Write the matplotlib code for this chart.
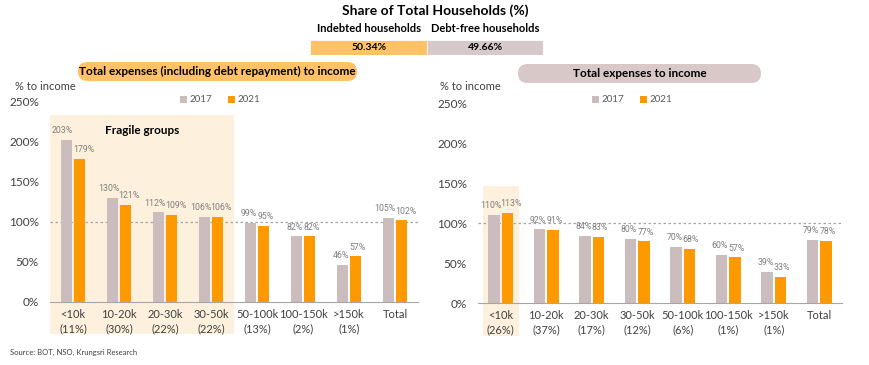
import matplotlib.pyplot as plt
from matplotlib.patches import FancyBboxPatch, Rectangle
from matplotlib import font_manager
import numpy as np

plt.rcParams['font.family'] = ['Lato', 'DejaVu Sans']

# data
left_cats = ["<10k\n(11%)", "10-20k\n(30%)", "20-30k\n(22%)", "30-50k\n(22%)",
             "50-100k\n(13%)", "100-150k\n(2%)", ">150k\n(1%)", "Total"]
left_2017 = [203, 130, 112, 106, 99, 82, 46, 105]
left_2021 = [179, 121, 109, 106, 95, 82, 57, 102]

right_cats = ["<10k\n(26%)", "10-20k\n(37%)", "20-30k\n(17%)", "30-50k\n(12%)",
              "50-100k\n(6%)", "100-150k\n(1%)", ">150k\n(1%)", "Total"]
right_2017 = [110, 92, 84, 80, 70, 60, 39, 79]
right_2021 = [113, 91, 83, 77, 68, 57, 33, 78]

share_labels = ["Indebted households", "Debt-free households"]
share_values = [50.34, 49.66]

C17 = "#CBBDBD"
C21 = "#FF9900"
SHADE = "#FDF0DC"
PILL_OR = "#FFC266"
PILL_GR = "#D9C8C8"
TXT = "#404040"

names = {f.name for f in font_manager.fontManager.ttflist}
NARROW = ["Liberation Sans Narrow"] if "Liberation Sans Narrow" in names else ["Roboto"]

W, H = 870, 365
fig = plt.figure(figsize=(W / 100, H / 100), dpi=100)


def fx(px):
    return px / W


def fy(py):
    return 1 - py / H


def draw_panel(ax, cats, v17, v21, shade_x, shade_y):
    x = np.arange(len(cats))
    bw = 0.25
    off = 0.145
    ax.add_patch(Rectangle((shade_x[0], shade_y[0]), shade_x[1] - shade_x[0],
                           shade_y[1] - shade_y[0], facecolor=SHADE,
                           edgecolor="none", clip_on=False, zorder=0))
    ax.bar(x - off, v17, bw, color=C17, label="2017", zorder=2)
    ax.bar(x + off, v21, bw, color=C21, label="2021", zorder=2)
    for i, (a, b) in enumerate(zip(v17, v21)):
        # spread the two labels apart when they are wide
        dx = 0.08 if max(a, b) >= 100 else 0.035
        ax.text(i - off - dx, a + 6, f"{a}%", ha="center", va="bottom",
                fontsize=6.3, color="#7F7F7F", family=NARROW)
        ax.text(i + off + dx, b + 6, f"{b}%", ha="center", va="bottom",
                fontsize=6.3, color="#7F7F7F", family=NARROW)
    ax.axhline(100, color="#A6A6A6", lw=0.9, ls=(0, (2, 2)), zorder=1)
    ax.set_xlim(-0.5, 7.5)
    ax.set_ylim(0, 250)
    ax.set_yticks([0, 50, 100, 150, 200, 250])
    ax.set_yticklabels([f"{t}%" for t in [0, 50, 100, 150, 200, 250]])
    ax.set_xticks(x)
    ax.set_xticklabels(cats, fontsize=8, color=TXT, linespacing=1.35)
    ax.tick_params(axis="y", length=0, labelsize=8.5, labelcolor=TXT, pad=8)
    ax.tick_params(axis="x", length=0, pad=5)
    for s in ("top", "right", "left"):
        ax.spines[s].set_visible(False)
    ax.spines["bottom"].set_color("#A6A6A6")
    ax.patch.set_alpha(0)


axl = fig.add_axes([fx(50), fy(302), fx(368), fy(102) - fy(302)])
draw_panel(axl, left_cats, left_2017, left_2021, (-0.5, 3.5), (-40, 234))
axl.text(1.5, 214, "Fragile groups", ha="center", va="center",
         fontsize=8.5, fontweight="bold", color="#000000")

axr = fig.add_axes([fx(478), fy(303), fx(364), fy(103) - fy(303)])
draw_panel(axr, right_cats, right_2017, right_2021, (-0.4, 0.4), (-41, 146))

for ax, cx in ((axl, 220), (axr, 632)):
    ax.legend(loc="center", bbox_to_anchor=(fx(cx), fy(100)),
              bbox_transform=fig.transFigure, ncol=2, frameon=False,
              fontsize=7, handlelength=0.7, handleheight=0.7,
              handletextpad=0.3, columnspacing=1.6, labelcolor="#595959")

fig.text(fx(15), fy(86), "% to income", fontsize=8, color=TXT, va="center")
fig.text(fx(440), fy(86), "% to income", fontsize=8, color=TXT, va="center")

# title pills
for (x0, x1, y0, y1, col, label) in ((78, 357, 62, 81, PILL_OR,
                                      "Total expenses (including debt repayment) to income"),
                                     (518, 761, 64, 83, PILL_GR, "Total expenses to income")):
    pill = FancyBboxPatch((x0 / 100, (H - y1) / 100), (x1 - x0) / 100, (y1 - y0) / 100,
                          boxstyle="round,pad=0,rounding_size=0.095",
                          transform=fig.dpi_scale_trans, facecolor=col,
                          edgecolor="none")
    fig.patches.append(pill)
    fig.text(fx((x0 + x1) / 2), fy((y0 + y1) / 2), label, ha="center", va="center",
             fontsize=8.5, fontweight="bold", color="#000000")

# share of households
fig.text(fx(435), fy(11), "Share of Total Households (%)", ha="center", va="center",
         fontsize=10, fontweight="bold", color="#000000")
axs = fig.add_axes([fx(310), fy(55), fx(233), fy(40) - fy(55)])
left = 0
for lab, val, col in zip(share_labels, share_values, [PILL_OR, "#D6C9C9"]):
    axs.barh([0], [val], left=left, height=1, color=col, edgecolor="white", lw=0.6)
    axs.text(left + val / 2, 0, f"{val:.2f}%", ha="center", va="center",
             fontsize=7.5, fontweight="bold", color="#000000")
    axs.text(left + val / 2, 1.25, lab, ha="center", va="center",
             fontsize=8, fontweight="bold", color="#000000", clip_on=False)
    left += val
axs.set_xlim(0, sum(share_values))
axs.set_ylim(-0.5, 0.5)
axs.axis("off")

fig.text(fx(10), fy(352), "Source: BOT, NSO, Krungsri Research", fontsize=5.5,
         color=TXT, va="center")

fig.savefig("out.png", dpi=100)
